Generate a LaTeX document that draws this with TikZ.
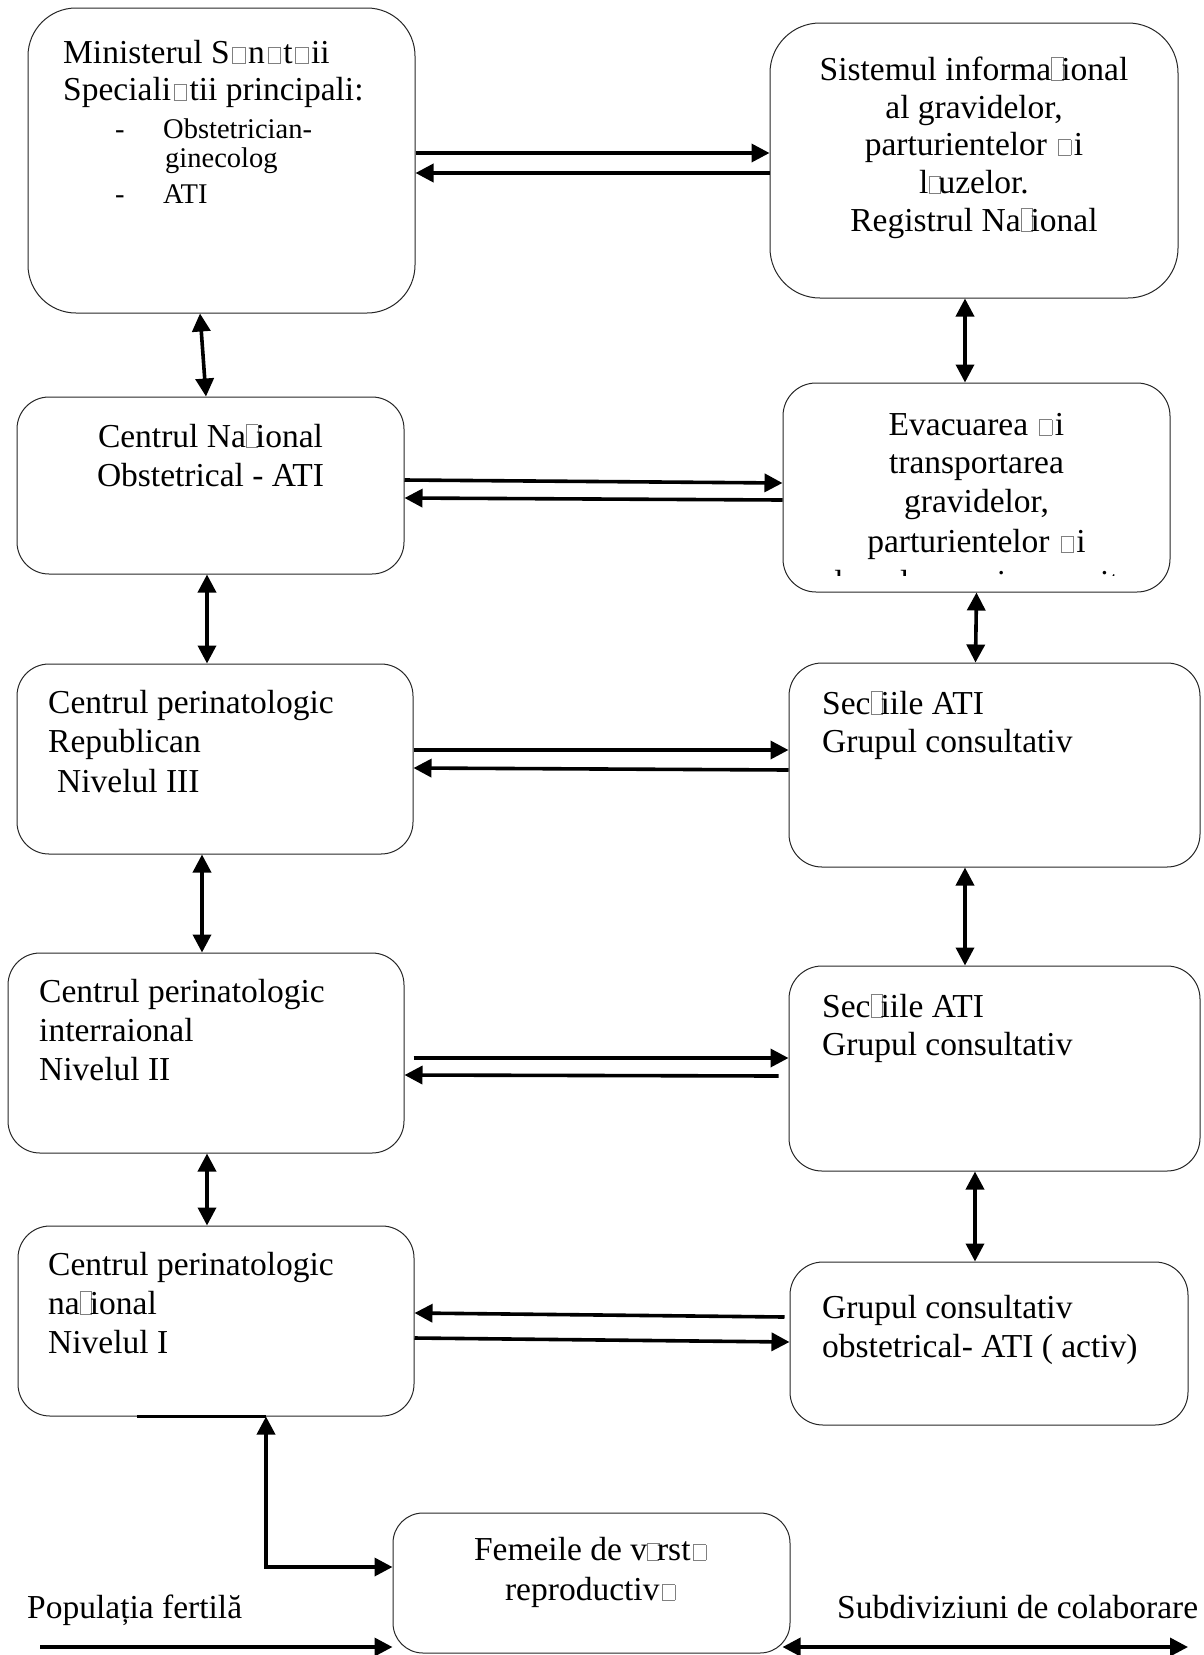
\documentclass[tikz,border=0pt]{standalone}
\usepackage{fontspec}
\setmainfont{Liberation Serif}
\usetikzlibrary{arrows.meta}
\newcommand\gbs{\makebox[0.55em][c]{\textcolor{gray}{\fboxsep=0pt\fboxrule=0.6pt\fbox{\rule{0pt}{0.45em}\hspace{0.36em}}}}}
\newcommand\gbn{\makebox[0.3em][l]{\textcolor{gray}{\fboxsep=0pt\fboxrule=0.6pt\fbox{\rule{0pt}{0.5em}\hspace{0.33em}}}}}
\newcommand\gbt{\makebox[0.3em][l]{\textcolor{gray}{\fboxsep=0pt\fboxrule=0.6pt\fbox{\rule{0pt}{0.66em}\hspace{0.33em}}}}}
\tikzset{
  bx/.style={draw=black!85, line width=1pt, rounded corners=#1, inner sep=0pt},
  txt/.style={font=\fontsize{33.5}{38}\selectfont, inner sep=0pt, anchor=base west},
  ctxt/.style={font=\fontsize{33.5}{38}\selectfont, inner sep=0pt, anchor=base},
  stxt/.style={font=\fontsize{28.5}{32}\selectfont, inner sep=0pt, anchor=base west},
  arr/.style={line width=3.6pt, >={Triangle[length=18pt,width=18pt]}},
}
\begin{document}
\begin{tikzpicture}[x=1pt,y=-1pt]
\useasboundingbox (0,0) rectangle (1203,1655);
% boxes
\node[bx=48, minimum width=387pt, minimum height=305pt] (min) at (221.5,160.5) {};
\node[bx=50, minimum width=408pt, minimum height=275pt] (sis) at (974,160.5) {};
\node[bx=32, minimum width=387pt, minimum height=177pt] (cn) at (210.5,485.5) {};
\node[bx=33, minimum width=387pt, minimum height=209pt] (evac) at (976.5,487.5) {};
\node[bx=32, minimum width=396pt, minimum height=190pt] (rep) at (215,759) {};
\node[bx=33, minimum width=411pt, minimum height=204pt] (sec1) at (994.5,765) {};
\node[bx=32, minimum width=396pt, minimum height=200pt] (inter) at (206,1053) {};
\node[bx=33, minimum width=411pt, minimum height=205pt] (sec2) at (994.5,1068.5) {};
\node[bx=32, minimum width=396pt, minimum height=190pt] (nat) at (216,1321) {};
\node[bx=33, minimum width=398pt, minimum height=163pt] (grup) at (989,1343.5) {};
\node[bx=30, minimum width=397pt, minimum height=140pt] (fem) at (591.5,1583) {};

% texts: Ministerul
\node[txt] (m1) at (63,63) {Ministerul S\gbs n\gbs t\gbs ii};
\node[txt] (m2) at (63,100) {Speciali\gbs tii principali:};
\node[stxt] (m3d) at (115,138) {-};
\node[stxt] (m3) at (163,138) {Obstetrician-};
\node[stxt] (m4) at (165,167) {ginecolog};
\node[stxt] (m5d) at (115,203) {-};
\node[stxt] (m5) at (163,203) {ATI};
% Sistemul
\node[ctxt] (s1) at (974,80) {Sistemul informa\gbt ional};
\node[ctxt] (s2) at (974,118) {al gravidelor,};
\node[ctxt] (s3) at (974,155) {parturientelor \gbs i};
\node[ctxt] (s4) at (974,193) {l\gbn uzelor.};
\node[ctxt] (s5) at (974,231) {Registrul Na\gbt ional};
% Centrul National
\node[ctxt] (c1) at (210.5,447) {Centrul Na\gbt ional};
\node[ctxt] (c2) at (210.5,486) {Obstetrical - ATI};
% Evacuarea
\node[ctxt] (e1) at (976.5,435) {Evacuarea \gbs i};
\node[ctxt] (e2) at (976.5,473) {transportarea};
\node[ctxt] (e3) at (976.5,512) {gravidelor,};
\node[ctxt] (e4) at (976.5,552) {parturientelor \gbs i};
\begin{scope}
\clip (783,383) rectangle (1170,575);
\node[ctxt] (e5) at (976.5,593) {l\gbn uzelor cu risc sporit};
\end{scope}
% Republican
\node[txt] (r1) at (48,713) {Centrul perinatologic};
\node[txt] (r2) at (48,752) {Republican};
\node[txt] (r3) at (57,792) {Nivelul III};
% Sectiile 1
\node[txt] (a1) at (822,714) {Sec\gbt iile ATI};
\node[txt] (a2) at (822,752) {Grupul consultativ};
% interraional
\node[txt] (i1) at (39,1002) {Centrul perinatologic};
\node[txt] (i2) at (39,1041) {interraional};
\node[txt] (i3) at (39,1080) {Nivelul II};
% Sectiile 2
\node[txt] (b1) at (822,1017) {Sec\gbt iile ATI};
\node[txt] (b2) at (822,1055) {Grupul consultativ};
% national
\node[txt] (n1) at (48,1275) {Centrul perinatologic};
\node[txt] (n2) at (48,1314) {na\gbt ional};
\node[txt] (n3) at (48,1353) {Nivelul I};
% Grupul
\node[txt] (g1) at (822,1318) {Grupul consultativ};
\node[txt] (g2) at (822,1357) {obstetrical- ATI ( activ)};
% Femeile
\node[ctxt] (f1) at (591.5,1560) {Femeile de v\gbn rst\gbs};
\node[ctxt] (f2) at (591.5,1600) {reproductiv\gbs};
% bottom labels
\node[txt] (pop) at (27,1618) {Populația fertilă};
\node[txt] (sub) at (837,1618) {Subdiviziuni de colaborare};

% horizontal arrows
\draw[arr,->] ([yshift=7.5]min.east) -- ([yshift=7.5]sis.west);
\draw[arr,->] ([yshift=-12.5]sis.west) -- ([yshift=-12.5]min.east);
\draw[arr,->] ([yshift=5.5]cn.east) -- ([yshift=4.5]evac.west);
\draw[arr,->] ([yshift=-12.5]evac.west) -- ([yshift=-12.5]cn.east);
\draw[arr,->] ([yshift=9]rep.east) -- ([yshift=15]sec1.west);
\draw[arr,->] ([yshift=-5]sec1.west) -- ([yshift=-9]rep.east);
\draw[arr,->] ([xshift=9,yshift=-5]inter.east) -- ([yshift=10.5]sec2.west);
\draw[arr,->] ([xshift=-10,yshift=-7.5]sec2.west) -- ([yshift=-22]inter.east);
\draw[arr,->] ([xshift=-5,yshift=26.5]grup.west) -- ([yshift=8]nat.east);
\draw[arr,->] ([yshift=-17]nat.east) -- ([yshift=1.5]grup.west);

% vertical arrows
\draw[arr,<->] ([xshift=-21.5]min.south) -- ([xshift=-4.5]cn.north);
\draw[arr,<->] ([xshift=-9]sis.south) -- ([xshift=-11.5]evac.north);
\draw[arr,<->] ([xshift=-3.5]cn.south) -- ([xshift=-8]rep.north);
\draw[arr,<->] ([xshift=0]evac.south) -- ([xshift=-19]sec1.north);
\draw[arr,<->] ([xshift=-13]rep.south) -- ([xshift=-4]inter.north);
\draw[arr,<->] ([xshift=-29.5]sec1.south) -- ([xshift=-29.5]sec2.north);
\draw[arr,<->] ([xshift=1]inter.south) -- ([xshift=-9]nat.north);
\draw[arr,<->] ([xshift=-19.5]sec2.south) -- ([xshift=-14]grup.north);

% bottom connectors
\draw[line width=3.6pt] ([xshift=-79]nat.south) -- ([xshift=50]nat.south);
\draw[arr,<->] ([xshift=50]nat.south) |- ([yshift=16]fem.west);
\coordinate (pstart) at (40,1647);
\coordinate (send) at (1188,1647);
\draw[arr,->] (pstart) -- ([yshift=-64]fem.west);
\draw[arr,<->] ([xshift=-8,yshift=-64]fem.east) -- (send);
\end{tikzpicture}
\end{document}
